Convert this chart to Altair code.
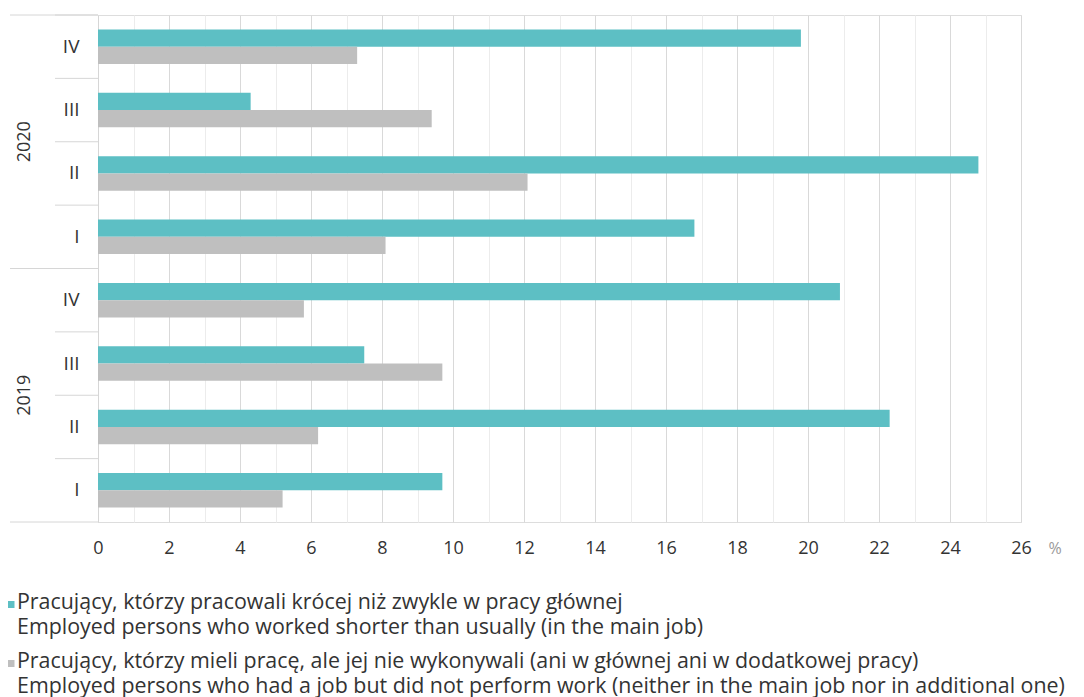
import altair as alt
import pandas as pd

# ---------------- data ----------------
years = ["2019", "2020"]
quarters = ["I", "II", "III", "IV"]

shorter_2019 = [9.7, 22.3, 7.5, 20.9]
shorter_2020 = [16.8, 24.8, 4.3, 19.8]
absent_2019 = [5.2, 6.2, 9.7, 5.8]
absent_2020 = [8.1, 12.1, 9.4, 7.3]

series_pl = [
    "Pracujący, którzy pracowali krócej niż zwykle w pracy głównej",
    "Pracujący, którzy mieli pracę, ale jej nie wykonywali (ani w głównej ani w dodatkowej pracy)",
]
series_en = [
    "Employed persons who worked shorter than usually (in the main job)",
    "Employed persons who had a job but did not perform work (neither in the main job nor in additional one)",
]
series_colors = ["#5DBFC4", "#BFBFBF"]
x_ticks = list(range(0, 27))
unit_label = "%"

# ---------------- tables ----------------
values = {
    ("2019", 0): shorter_2019,
    ("2020", 0): shorter_2020,
    ("2019", 1): absent_2019,
    ("2020", 1): absent_2020,
}
cat_order = [f"{y}|{q}" for y in reversed(years) for q in reversed(quarters)]
rows = []
for y in years:
    for i, q in enumerate(quarters):
        for s in range(2):
            rows.append({"cat": f"{y}|{q}", "series": series_en[s], "value": values[(y, s)][i]})
bar_df = pd.DataFrame(rows)

leg_df = pd.DataFrame(
    {"series": series_en, "text": [p + "\n" + e for p, e in zip(series_pl, series_en)]}
)

# ---------------- style ----------------
W, H = 923, 507
FONT = "Open Sans"
TXT = "#333333"
LINE = "#d6d6d6"

y_scale = alt.Scale(domain=cat_order, paddingInner=0, paddingOuter=0)
color_scale = alt.Scale(domain=series_en, range=series_colors)
y_axis = alt.Axis(
    labelExpr="split(datum.label, '|')[1]",
    ticks=False,
    domain=True,
    domainColor=LINE,
    labelPadding=19,
    labelFontSize=19,
    labelColor=TXT,
    labelFont=FONT,
    grid=False,
    title=None,
)

bars = alt.Chart(bar_df).mark_bar().encode(
    x=alt.X(
        "value:Q",
        scale=alt.Scale(domain=[0, 26], nice=False),
        axis=alt.Axis(
            values=x_ticks,
            labelExpr="datum.value % 2 === 0 ? datum.label : ''",
            grid=True,
            gridColor={
                "condition": {"test": "datum.value % 2 === 0", "value": "#d9d9d9"},
                "value": "#ececec",
            },
            ticks=False,
            domain=False,
            labelPadding=17,
            labelFontSize=18,
            labelColor=TXT,
            labelFont=FONT,
            labelOverlap=False,
            labelFlush=False,
            title=unit_label,
            titleX=950,
            titleY=26,
            titleAlign="left",
            titleBaseline="middle",
            titleAngle=0,
            titleFontSize=16,
            titleFontWeight="normal",
            titleColor="#9a9a9a",
            titleFont=FONT,
        ),
    ),
    y=alt.Y("cat:N", scale=y_scale, sort=cat_order, axis=y_axis),
    yOffset=alt.YOffset(
        "series:N",
        scale=alt.Scale(domain=series_en, paddingInner=0, paddingOuter=0.84),
    ),
    color=alt.Color("series:N", scale=color_scale, legend=None),
)

q_rules = alt.Chart(pd.DataFrame({"cat": cat_order})).mark_rule(
    color=LINE, strokeWidth=1
).encode(
    y=alt.Y("cat:N", scale=y_scale, bandPosition=0, axis=y_axis),
    x=alt.value(-43),
    x2=alt.value(0),
)

yr_top = alt.Chart(pd.DataFrame({"cat": [f"{y}|{quarters[-1]}" for y in years]})).mark_rule(
    color=LINE, strokeWidth=1
).encode(
    y=alt.Y("cat:N", scale=y_scale, bandPosition=0, axis=y_axis),
    x=alt.value(-88),
    x2=alt.value(0),
)

yr_bottom = alt.Chart(pd.DataFrame({"cat": [f"{years[0]}|{quarters[0]}"]})).mark_rule(
    color=LINE, strokeWidth=1
).encode(
    y=alt.Y("cat:N", scale=y_scale, bandPosition=1, axis=y_axis),
    x=alt.value(-88),
    x2=alt.value(0),
)

yr_labels = alt.Chart(
    pd.DataFrame({"cat": [f"{y}|{quarters[2]}" for y in years], "year": years})
).mark_text(
    angle=270, align="center", baseline="middle", fontSize=18, font=FONT, color=TXT
).encode(
    y=alt.Y("cat:N", scale=y_scale, bandPosition=1, axis=y_axis),
    x=alt.value(-73),
    text="year:N",
)

leg_y = alt.Y(
    "series:N",
    scale=alt.Scale(domain=series_en, range=[564, 682], paddingInner=0, paddingOuter=0),
    bandPosition=0.5,
    axis=None,
)

leg_sym = alt.Chart(leg_df).mark_point(
    shape="M-1,-2.14H1V-0.14H-1Z", filled=True, size=49, opacity=1
).encode(
    x=alt.value(-87),
    y=leg_y,
    color=alt.Color("series:N", scale=color_scale, legend=None),
)

leg_text = alt.Chart(leg_df).mark_text(
    align="left",
    baseline="alphabetic",
    fontSize=21.4,
    font=FONT,
    color=TXT,
    lineBreak="\n",
    lineHeight=25,
).encode(
    x=alt.value(-81),
    y=leg_y,
    text="text:N",
)

inner = alt.layer(bars, q_rules, yr_top, yr_bottom, yr_labels)
legend = alt.layer(leg_sym, leg_text)

chart = (
    alt.layer(inner, legend)
    .resolve_scale(y="independent")
    .properties(
        width=W,
        height=H,
        padding={"left": 90, "top": 7, "right": 55, "bottom": 175},
        autosize=alt.AutoSizeParams(type="none"),
    )
    .configure_view(stroke=None)
    .configure(font=FONT)
)

chart.save("out.html", embed_options={"renderer": "svg", "actions": False})
